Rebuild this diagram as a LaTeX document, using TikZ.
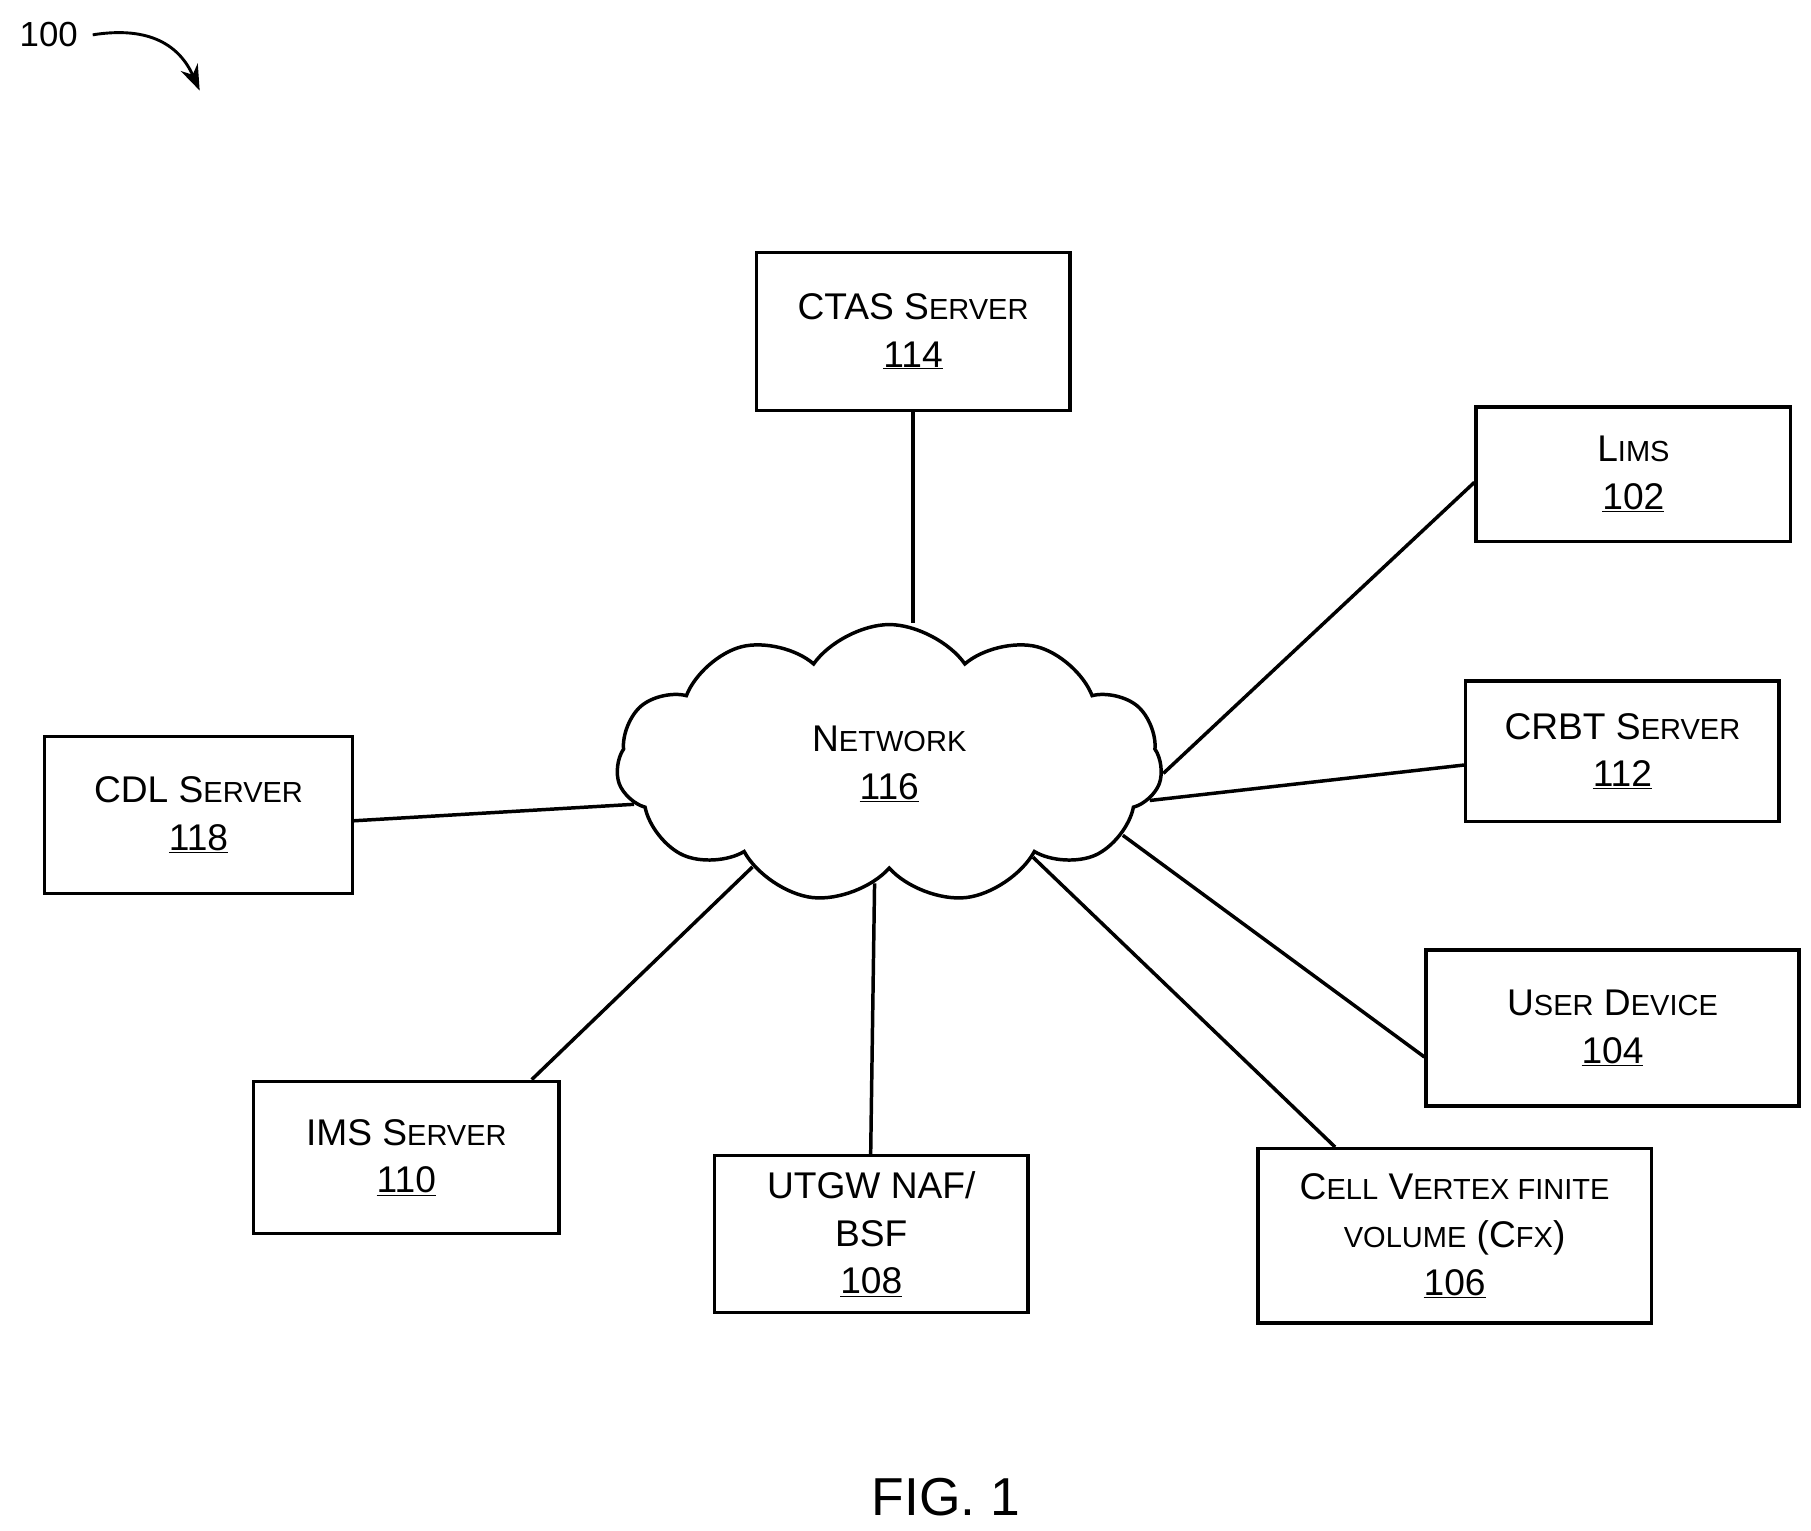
\documentclass[tikz,border=0pt]{standalone}
\usepackage{fontspec}
\setmainfont{Liberation Sans}
\usetikzlibrary{shapes.symbols,arrows.meta}
\newcommand\smc[1]{{\fontsize{25}{30}\selectfont\uppercase{#1}}}
\begin{document}
\begin{tikzpicture}[x=1pt,y=-1pt,line width=3pt,
 box/.style={draw,rectangle,align=center,font=\fontsize{32}{41}\selectfont,inner sep=0pt,anchor=north west},
 lk/.style={line width=3pt}]
\useasboundingbox (0,0) rectangle (1560,1318);
\node[box,minimum width=270,minimum height=136] (ctas) at (650,216) {CTAS S\smc{erver}\\\underline{114}};
\node[box,minimum width=271,minimum height=116] (lims) at (1270,349) {L\smc{ims}\\\underline{102}};
\node[box,minimum width=270,minimum height=121] (crbt) at (1261,585) {CRBT S\smc{erver}\\\underline{112}};
\node[box,minimum width=321,minimum height=134] (user) at (1227,817) {U\smc{ser} D\smc{evice}\\\underline{104}};
\node[box,minimum width=339,minimum height=150] (cell) at (1082,988) {C\smc{ell} V\smc{ertex finite}\\\smc{volume} (C\smc{fx})\\\underline{106}};
\node[box,minimum width=270,minimum height=135] (utgw) at (614,994) {UTGW NAF/\\BSF\\\underline{108}};
\node[box,minimum width=263,minimum height=131] (ims) at (217,930) {IMS S\smc{erver}\\\underline{110}};
\node[box,minimum width=265,minimum height=135] (cdl) at (37,633) {CDL S\smc{erver}\\\underline{118}};
\node[draw,cloud,cloud puffs=11,cloud puff arc=110,aspect=2,minimum width=470,minimum height=240,align=center,font=\fontsize{32}{41}\selectfont,inner sep=0pt] (net) at (766,658) {N\smc{etwork}\\\underline{116}};
\draw[lk] (ctas.south) -- (ctas.south|-net.north);
\draw[lk] ([yshift=-7pt]lims.west) -- (net.-2);
\draw[lk] ([yshift=-12pt]crbt.west) -- (net.-8);
\draw[lk] ([yshift=-25pt]user.west) -- (net.-17);
\draw[lk] ([xshift=68pt]cell.north west) -- (net.-33);
\draw[lk] ([xshift=136pt]utgw.north west) -- (net.-97);
\draw[lk] ([xshift=241pt]ims.north west) -- (net.-143);
\draw[lk] ([yshift=-5pt]cdl.east) -- (net.-171);
\node[font=\fontsize{30}{36}\selectfont] (lbl) at (42,30) {100};
\coordinate (tip) at (172,78);
\draw[line width=2.5pt,-{Stealth[length=22pt,width=16pt]}] ([xshift=8pt]lbl.east) .. controls (130,22) and (155,40) .. (tip);
\node[font=\fontsize{46}{50}\selectfont] (fig) at (815,1290) {FIG. 1};
\end{tikzpicture}
\end{document}
